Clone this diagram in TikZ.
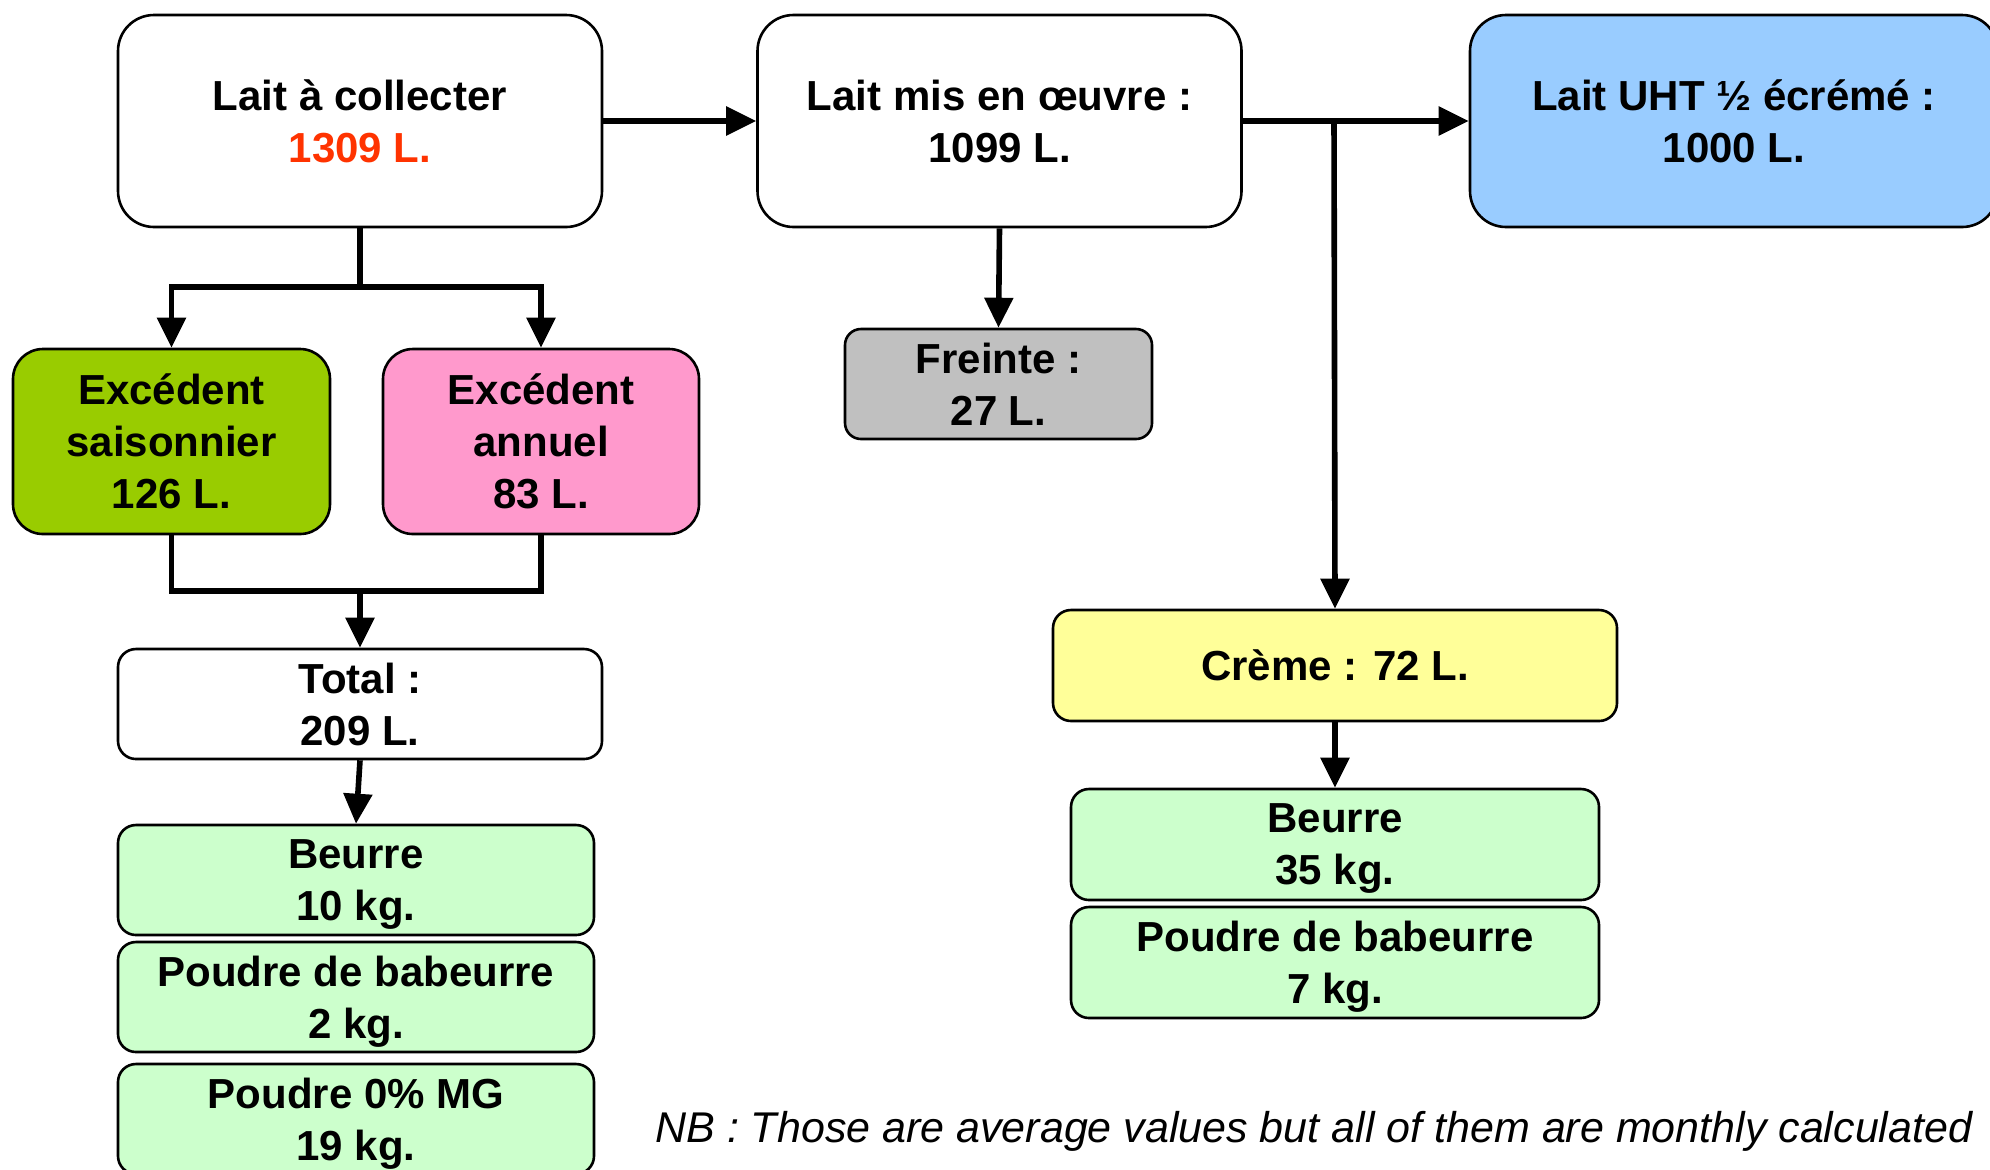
\documentclass[tikz,border=0pt]{standalone}
\usepackage{fontspec}
\setmainfont{Liberation Sans}
\usetikzlibrary{arrows.meta}
\definecolor{cGreen}{HTML}{99CC00}
\definecolor{cPink}{HTML}{FF99CC}
\definecolor{cBlue}{HTML}{99CCFF}
\definecolor{cGrey}{HTML}{C0C0C0}
\definecolor{cYellow}{HTML}{FFFF99}
\definecolor{cLight}{HTML}{CCFFCC}
\definecolor{cRed}{HTML}{FF3300}
\tikzset{
  box/.style={draw=black, line width=1.3pt, align=center, inner sep=0pt, text depth=0pt,
    font=\bfseries\fontsize{21pt}{26pt}\selectfont},
  conn/.style={line width=2.8pt},
  arr/.style={conn, -{Triangle[length=15pt,width=14pt]}},
}
\begin{document}
\begin{tikzpicture}[x=0.5pt,y=-0.5pt]
\clip (0,0) rectangle (1990,1169);
\fill[white] (0,0) rectangle (1990,1169);
% top row
\node[box, fill=white, rounded corners=18pt, minimum width=242pt, minimum height=106pt] (lc) at (360,121) {Lait à collecter\\\textcolor{cRed}{1309 L.}};
\node[box, fill=white, rounded corners=18pt, minimum width=242pt, minimum height=106pt] (lm) at (999.5,121) {Lait mis en œuvre :\\1099 L.};
\node[box, fill=cBlue, rounded corners=18pt, minimum width=264pt, minimum height=106pt] (uht) at (1734,121) {Lait UHT ½ écrémé :\\1000 L.};
% left branch
\node[box, fill=cGreen, rounded corners=15pt, minimum width=158.5pt, minimum height=92.5pt] (es) at (171.5,441.5) {Excédent\\saisonnier\\126 L.};
\node[box, fill=cPink, rounded corners=15pt, minimum width=158pt, minimum height=92.5pt] (ea) at (541,441.5) {Excédent\\annuel\\83 L.};
\node[box, fill=white, rounded corners=9pt, minimum width=242pt, minimum height=55pt] (tot) at (360,704) {Total :\\209 L.};
\node[box, fill=cLight, rounded corners=9pt, minimum width=238pt, minimum height=55pt] (b1) at (356,880) {Beurre\\10 kg.};
\node[box, fill=cLight, rounded corners=9pt, minimum width=238pt, minimum height=55pt] (p1) at (356,997) {Poudre de babeurre\\2 kg.};
\node[box, fill=cLight, rounded corners=9pt, minimum width=238pt, minimum height=55pt] (p2) at (356,1119) {Poudre 0\% MG\\19 kg.};
% middle / right
\node[box, fill=cGrey, rounded corners=8pt, minimum width=153.5pt, minimum height=55pt] (fr) at (998.5,384) {Freinte :\\27 L.};
\node[box, fill=cYellow, rounded corners=9pt, minimum width=282pt, minimum height=55.5pt] (cr) at (1335,665.5) {Crème : 72 L.};
\node[box, fill=cLight, rounded corners=9pt, minimum width=264pt, minimum height=55.5pt] (b2) at (1335,844.5) {Beurre\\35 kg.};
\node[box, fill=cLight, rounded corners=9pt, minimum width=264pt, minimum height=55.5pt] (pb2) at (1335,962.5) {Poudre de babeurre\\7 kg.};
% note
\node[anchor=base west, inner sep=0pt, font=\itshape\fontsize{21.5pt}{25pt}\selectfont] (nb) at (655,1142) {NB : Those are average values but all of them are monthly calculated};
% connectors
\draw[arr] (lc.east) -- (lm.west);
\draw[conn] (lc.south) -- (360,287) coordinate (j1);
\draw[arr] (j1) -| (es.north);
\draw[arr] (j1) -| (ea.north);
\coordinate (j2) at (360,591);
\draw[conn] (es.south) |- (j2) -| (ea.south);
\draw[arr] (j2) -- (tot.north);
\draw[arr] (tot.south) -- (b1.north);
\draw[arr] (lm.south) -- (fr.north);
\draw[arr] (lm.east) -- (uht.west);
\coordinate (j3) at (1334,121);
\draw[arr] (j3) -- (cr.north);
\draw[arr] (cr.south) -- (b2.north);
\end{tikzpicture}
\end{document}
